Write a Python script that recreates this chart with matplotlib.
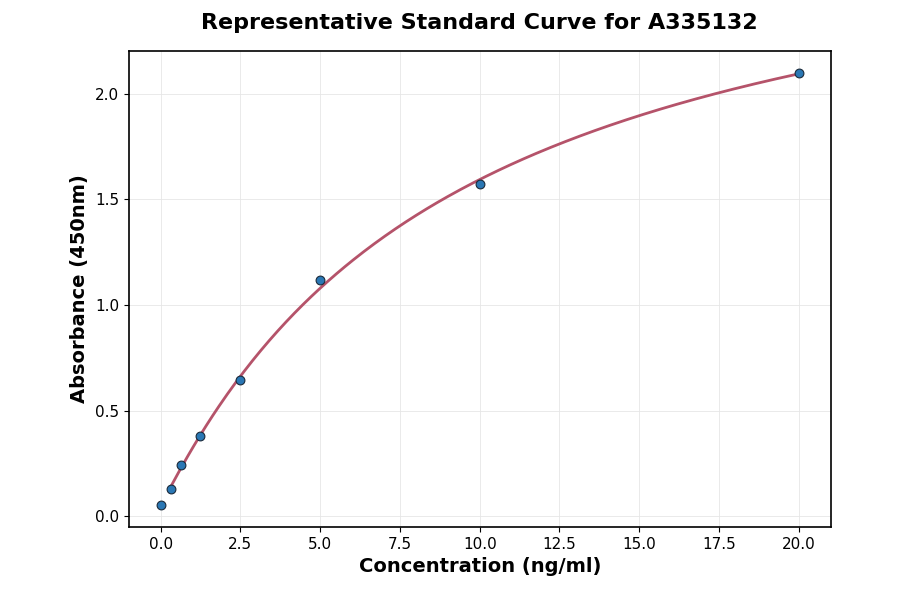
import numpy as np
import matplotlib
matplotlib.use("Agg")
import matplotlib.pyplot as plt

conc = [0.0, 0.3125, 0.625, 1.25, 2.5, 5.0, 10.0, 20.0]
absorb = [0.052, 0.128, 0.241, 0.378, 0.643, 1.116, 1.570, 2.099]

x = np.array(conc)
y = np.array(absorb)

# 4PL fit via grid search over (b, c) with linear solve for (a, d)
best = None
for b in np.linspace(0.5, 2.0, 151):
    for c in np.geomspace(1, 500, 300):
        g = 1.0 / (1.0 + (x / c) ** b)
        A = np.column_stack([g, 1 - g])
        coef, *_ = np.linalg.lstsq(A, y, rcond=None)
        r = np.sum((A @ coef - y) ** 2)
        if best is None or r < best[0]:
            best = (r, b, c, coef)
_, b, c, (a, d) = best
xf = np.linspace(conc[1], conc[-1], 300)
gf = 1.0 / (1.0 + (xf / c) ** b)
yf = a * gf + d * (1 - gf)

fig, ax = plt.subplots(figsize=(9, 5.94), dpi=100)
fig.subplots_adjust(left=0.143, right=0.923, top=0.914, bottom=0.113)
ax.plot(xf, yf, color="#b5536a", lw=2, zorder=2)
ax.scatter(conc, absorb, s=40, color="#2a77b4", edgecolor="#1a2a3a", linewidth=0.8, zorder=3)
ax.grid(True, color="#e6e6e6", lw=0.6)
ax.set_axisbelow(True)
ax.set_xticks([0, 2.5, 5, 7.5, 10, 12.5, 15, 17.5, 20])
ax.set_yticks([0, 0.5, 1.0, 1.5, 2.0])
ax.tick_params(labelsize=11)
for s in ax.spines.values():
    s.set_linewidth(1.2)
ax.set_xlabel("Concentration (ng/ml)", fontsize=14, fontweight="bold")
ax.set_ylabel("Absorbance (450nm)", fontsize=14, fontweight="bold")
ax.set_title("Representative Standard Curve for A335132", fontsize=16, fontweight="bold", pad=16)
fig.savefig("out.png", dpi=100)
